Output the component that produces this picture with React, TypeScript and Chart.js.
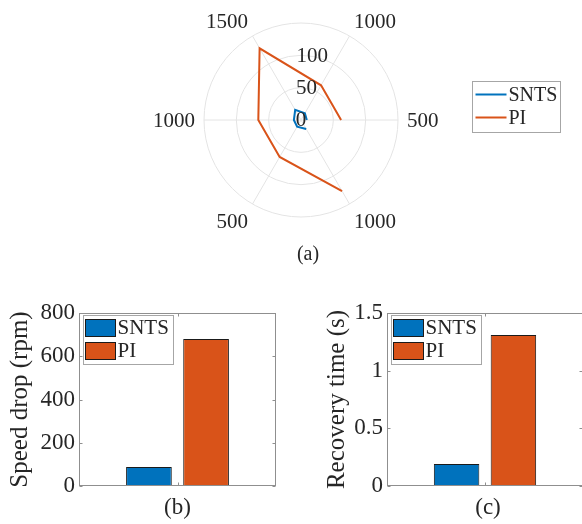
import React, { useEffect, useRef } from 'react';
import { Chart, registerables } from 'chart.js';

Chart.register(...registerables);

const FONT = '"Liberation Serif", "Times New Roman", serif';
const TEXT = '#262626';
const BOX = '#8f8f8f';
const LEGEND_EDGE = '#a6a6a6';
const BLUE = '#0072BD';
const ORANGE = '#D95319';
const BAR_EDGE = '#1a1a1a';

// ---- (a) polar plot: spokes listed clockwise starting at the 300° spoke ----
const thetaLabels = ['1000', '500', '1000', '1500', '1000', '500'];
const sntsPolar = [16, 12, 11, 18, 12, 9];
const piPolar = [127, 66, 66, 128, 62, 62];
const rTickLabels = [0, 50, 100];
const rMax = 150;
const rStep = 50;

// ---- (b) and (c) bar charts ----
const seriesNames = ['SNTS', 'PI'];
const seriesColors = [BLUE, ORANGE];
const speedDrop = [88, 680];
const recoveryTime = [0.19, 1.31];
const speedAxis = { min: 0, max: 800, step: 200 };
const recoveryAxis = { min: 0, max: 1.5, step: 0.5 };

const polarDecor = {
  id: 'polarDecor',
  afterDraw(chart: any) {
    const ctx = chart.ctx;
    const s = chart.scales.r;
    const R = s.drawingArea;
    ctx.save();
    ctx.fillStyle = TEXT;
    ctx.font = `21px ${FONT}`;
    const h = 21 * 0.68;
    thetaLabels.forEach((lab, i) => {
      const p = s.getPointPosition(i, R + 9);
      const c = Math.cos(p.angle);
      const sn = Math.sin(p.angle);
      ctx.textAlign = c > 0.1 ? 'left' : c < -0.1 ? 'right' : 'center';
      ctx.textBaseline = 'alphabetic';
      let y = p.y;
      if (sn > 0.1) y = p.y + h + 2;
      else if (sn >= -0.1) y = p.y + h / 2;
      ctx.fillText(lab, p.x, y);
    });
    ctx.textAlign = 'center';
    ctx.textBaseline = 'middle';
    const a = (80 * Math.PI) / 180;
    rTickLabels.forEach((v) => {
      const d = s.getDistanceFromCenterForValue(v);
      ctx.fillText(String(v), s.xCenter + Math.cos(a) * d, s.yCenter - Math.sin(a) * d);
    });
    ctx.font = `20px ${FONT}`;
    ctx.fillText('(a)', s.xCenter + 7, 255);

    // legend
    const x0 = 472.5, y0 = 81.5, w = 88, hh = 51;
    ctx.fillStyle = '#fff';
    ctx.fillRect(x0, y0, w, hh);
    ctx.strokeStyle = LEGEND_EDGE;
    ctx.lineWidth = 1;
    ctx.strokeRect(x0, y0, w, hh);
    ctx.font = `20px ${FONT}`;
    ctx.textAlign = 'left';
    ctx.textBaseline = 'middle';
    chart.data.datasets.forEach((ds: any, i: number) => {
      const yy = y0 + 13 + i * 23;
      ctx.strokeStyle = ds.borderColor;
      ctx.lineWidth = 2;
      ctx.beginPath();
      ctx.moveTo(x0 + 3, yy);
      ctx.lineTo(x0 + 34, yy);
      ctx.stroke();
      ctx.fillStyle = TEXT;
      ctx.fillText(ds.label, x0 + 36, yy + 1);
    });
    ctx.restore();
  },
};

const barDecor = (caption: string, captionDx: number) => ({
  id: 'barDecor',
  afterDraw(chart: any) {
    const { ctx, chartArea: a } = chart;
    const ys = chart.scales.y;
    const L = Math.round(a.left) + 0.5;
    const T = Math.round(a.top) + 0.5;
    const Rr = Math.round(a.right) - 0.5;
    const B = Math.round(a.bottom) - 0.5;
    ctx.save();
    ctx.strokeStyle = BOX;
    ctx.lineWidth = 1;
    ctx.strokeRect(L, T, Rr - L, B - T);
    ctx.beginPath();
    ys.ticks.forEach((t: any) => {
      const py = Math.round(ys.getPixelForValue(t.value)) + 0.5;
      ctx.moveTo(L, py);
      ctx.lineTo(L + 3, py);
      ctx.moveTo(Rr, py);
      ctx.lineTo(Rr - 3, py);
    });
    const cx = Math.round((a.left + a.right) / 2) + 0.5;
    ctx.moveTo(cx, B);
    ctx.lineTo(cx, B - 3);
    ctx.moveTo(cx, T);
    ctx.lineTo(cx, T + 3);
    ctx.stroke();

    // legend
    const x0 = Math.round(a.left) + 4.5;
    const y0 = Math.round(a.top) + 2.5;
    const w = 90, h = 49;
    ctx.fillStyle = '#fff';
    ctx.fillRect(x0, y0, w, h);
    ctx.strokeStyle = LEGEND_EDGE;
    ctx.strokeRect(x0, y0, w, h);
    ctx.font = `21px ${FONT}`;
    ctx.textAlign = 'left';
    ctx.textBaseline = 'middle';
    chart.data.datasets.forEach((ds: any, i: number) => {
      const sy = y0 + 4 + i * 23;
      ctx.fillStyle = ds.backgroundColor;
      ctx.fillRect(x0 + 2, sy, 30, 17);
      ctx.strokeStyle = BAR_EDGE;
      ctx.strokeRect(x0 + 2, sy, 30, 17);
      ctx.fillStyle = TEXT;
      ctx.fillText(ds.label, x0 + 34, sy + 9);
    });

    ctx.font = `23px ${FONT}`;
    ctx.textAlign = 'center';
    ctx.fillStyle = TEXT;
    ctx.fillText(caption, (a.left + a.right) / 2 + captionDx, 218);
    ctx.restore();
  },
});

function makePolar(canvas: HTMLCanvasElement) {
  return new Chart(canvas, {
    type: 'radar',
    data: {
      labels: thetaLabels,
      datasets: [
        { label: seriesNames[0], data: [...sntsPolar, null], borderColor: BLUE, borderWidth: 2, fill: false, pointRadius: 0, pointHoverRadius: 0, tension: 0 },
        { label: seriesNames[1], data: [...piPolar, null], borderColor: ORANGE, borderWidth: 2, fill: false, pointRadius: 0, pointHoverRadius: 0, tension: 0 },
      ],
    } as any,
    options: {
      animation: false,
      responsive: false,
      layout: { padding: { left: 204, top: 23, right: 184, bottom: 63 } },
      plugins: { legend: { display: false }, tooltip: { enabled: false } },
      scales: {
        r: {
          min: 0,
          max: rMax,
          startAngle: 150,
          ticks: { display: false, stepSize: rStep },
          grid: { circular: true, color: '#e4e4e4', lineWidth: 1 },
          angleLines: { display: true, color: '#e4e4e4', lineWidth: 1 },
          pointLabels: { display: false },
        },
      },
    } as any,
    plugins: [polarDecor],
  });
}

function makeBar(
  canvas: HTMLCanvasElement,
  values: number[],
  axis: { min: number; max: number; step: number },
  title: string,
  padLeft: number,
  axisWidth: number,
  padRight: number,
  caption: string,
  captionDx: number
) {
  return new Chart(canvas, {
    type: 'bar',
    data: {
      labels: [''],
      datasets: seriesNames.map((n, i) => ({
        label: n,
        data: [values[i]],
        backgroundColor: seriesColors[i],
        borderColor: BAR_EDGE,
        borderWidth: 1,
        borderSkipped: false,
        categoryPercentage: 0.58,
        barPercentage: 0.8,
      })),
    },
    options: {
      animation: false,
      responsive: false,
      layout: { padding: { left: padLeft, top: 23, right: padRight, bottom: 38 } },
      plugins: { legend: { display: false }, tooltip: { enabled: false } },
      scales: {
        x: { display: false },
        y: {
          min: axis.min,
          max: axis.max,
          ticks: {
            stepSize: axis.step,
            color: TEXT,
            font: { family: FONT, size: 23 },
            padding: 4,
            callback: (v: any) => String(Number(v)),
          },
          grid: { display: false, drawTicks: false },
          border: { display: false },
          title: { display: true, text: title, color: TEXT, font: { family: FONT, size: 25 }, padding: { top: 5, bottom: 0 } },
          afterFit: (s: any) => {
            s.width = axisWidth;
          },
        },
      },
    } as any,
    plugins: [barDecor(caption, captionDx)],
  });
}

function ChartCanvas(props: { make: (c: HTMLCanvasElement) => Chart; left: number; top: number; w: number; h: number }) {
  const ref = useRef<HTMLCanvasElement | null>(null);
  useEffect(() => {
    const chart = props.make(ref.current as HTMLCanvasElement);
    return () => chart.destroy();
  }, []);
  return (
    <canvas
      ref={ref}
      width={props.w}
      height={props.h}
      style={{ position: 'absolute', left: props.left, top: props.top, width: props.w, height: props.h }}
    />
  );
}

export default function App() {
  return (
    <div style={{ position: 'absolute', left: 0, top: 0, width: 582, height: 524, overflow: 'hidden', background: '#fff' }}>
      <ChartCanvas make={makePolar} left={0} top={0} w={582} h={280} />
      <ChartCanvas
        make={(c) => makeBar(c, speedDrop, speedAxis, 'Speed drop (rpm)', 0, 79, 14, '(b)', 0)}
        left={0}
        top={290}
        w={290}
        h={234}
      />
      <ChartCanvas
        make={(c) => makeBar(c, recoveryTime, recoveryAxis, 'Recovery time (s)', 27, 70, 0, '(c)', 3)}
        left={290}
        top={290}
        w={293}
        h={234}
      />
    </div>
  );
}
